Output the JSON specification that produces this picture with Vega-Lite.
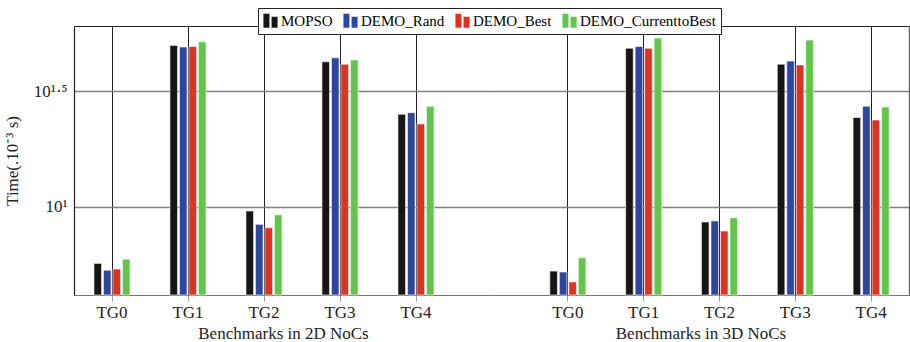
{
  "$schema": "https://vega.github.io/schema/vega-lite/v6.json",
  "autosize": {"type": "pad"},
  "padding": {"left": 3, "top": 7, "right": 2, "bottom": 0},
  "background": "white",
  "spacing": 0,
  "bounds": "flush",
  "config": {
    "view": {"stroke": null},
    "font": "Liberation Serif",
    "axis": {"labelFont": "Liberation Serif", "titleFont": "Liberation Serif", "labelColor": "#222", "titleColor": "#222", "titleFontWeight": "normal"},
    "legend": {"labelFont": "Liberation Serif"}
  },
  "data": {
    "values": [
      {"dim": "2D", "tg": "TG0", "method": "MOPSO", "time": 5.69},
      {"dim": "2D", "tg": "TG0", "method": "DEMO_Rand", "time": 5.31},
      {"dim": "2D", "tg": "TG0", "method": "DEMO_Best", "time": 5.38},
      {"dim": "2D", "tg": "TG0", "method": "DEMO_CurrenttoBest", "time": 5.93},
      {"dim": "2D", "tg": "TG1", "method": "MOPSO", "time": 49.8},
      {"dim": "2D", "tg": "TG1", "method": "DEMO_Rand", "time": 49.0},
      {"dim": "2D", "tg": "TG1", "method": "DEMO_Best", "time": 49.3},
      {"dim": "2D", "tg": "TG1", "method": "DEMO_CurrenttoBest", "time": 51.6},
      {"dim": "2D", "tg": "TG2", "method": "MOPSO", "time": 9.58},
      {"dim": "2D", "tg": "TG2", "method": "DEMO_Rand", "time": 8.39},
      {"dim": "2D", "tg": "TG2", "method": "DEMO_Best", "time": 8.11},
      {"dim": "2D", "tg": "TG2", "method": "DEMO_CurrenttoBest", "time": 9.23},
      {"dim": "2D", "tg": "TG3", "method": "MOPSO", "time": 42.3},
      {"dim": "2D", "tg": "TG3", "method": "DEMO_Rand", "time": 44.0},
      {"dim": "2D", "tg": "TG3", "method": "DEMO_Best", "time": 41.3},
      {"dim": "2D", "tg": "TG3", "method": "DEMO_CurrenttoBest", "time": 43.1},
      {"dim": "2D", "tg": "TG4", "method": "MOPSO", "time": 25.1},
      {"dim": "2D", "tg": "TG4", "method": "DEMO_Rand", "time": 25.5},
      {"dim": "2D", "tg": "TG4", "method": "DEMO_Best", "time": 22.8},
      {"dim": "2D", "tg": "TG4", "method": "DEMO_CurrenttoBest", "time": 27.2},
      {"dim": "3D", "tg": "TG0", "method": "MOPSO", "time": 5.27},
      {"dim": "3D", "tg": "TG0", "method": "DEMO_Rand", "time": 5.22},
      {"dim": "3D", "tg": "TG0", "method": "DEMO_Best", "time": 4.73},
      {"dim": "3D", "tg": "TG0", "method": "DEMO_CurrenttoBest", "time": 6.02},
      {"dim": "3D", "tg": "TG1", "method": "MOPSO", "time": 48.4},
      {"dim": "3D", "tg": "TG1", "method": "DEMO_Rand", "time": 49.3},
      {"dim": "3D", "tg": "TG1", "method": "DEMO_Best", "time": 48.4},
      {"dim": "3D", "tg": "TG1", "method": "DEMO_CurrenttoBest", "time": 53.6},
      {"dim": "3D", "tg": "TG2", "method": "MOPSO", "time": 8.59},
      {"dim": "3D", "tg": "TG2", "method": "DEMO_Rand", "time": 8.68},
      {"dim": "3D", "tg": "TG2", "method": "DEMO_Best", "time": 7.85},
      {"dim": "3D", "tg": "TG2", "method": "DEMO_CurrenttoBest", "time": 8.96},
      {"dim": "3D", "tg": "TG3", "method": "MOPSO", "time": 41.3},
      {"dim": "3D", "tg": "TG3", "method": "DEMO_Rand", "time": 42.6},
      {"dim": "3D", "tg": "TG3", "method": "DEMO_Best", "time": 41.0},
      {"dim": "3D", "tg": "TG3", "method": "DEMO_CurrenttoBest", "time": 52.5},
      {"dim": "3D", "tg": "TG4", "method": "MOPSO", "time": 24.3},
      {"dim": "3D", "tg": "TG4", "method": "DEMO_Rand", "time": 27.2},
      {"dim": "3D", "tg": "TG4", "method": "DEMO_Best", "time": 23.7},
      {"dim": "3D", "tg": "TG4", "method": "DEMO_CurrenttoBest", "time": 27.0}
    ]
  },
  "hconcat": [
    {
      "width": 418,
      "height": 269,
      "transform": [{"filter": "datum.dim === '2D'"}],
      "resolve": {"axis": {"x": "independent", "y": "independent"}},
      "layer": [
        {
          "mark": {"type": "bar", "stroke": "white", "strokeWidth": 0.6},
          "encoding": {
            "x": {
              "field": "tg", "type": "nominal", "sort": null,
              "scale": {"paddingInner": 0.5, "paddingOuter": 0.5, "align": 0.25},
              "axis": {"orient": "bottom", "title": "Benchmarks in 2D NoCs", "labelAngle": 0, "labelFontSize": 17, "titleFontSize": 17, "labelPadding": 3, "titlePadding": 5, "tickColor": "#999", "tickSize": 6, "domainColor": "#777", "domainWidth": 1.2, "grid": true, "gridColor": "#222", "gridWidth": 1, "bandPosition": 0.5}
            },
            "xOffset": {"field": "method", "type": "nominal", "sort": ["MOPSO", "DEMO_Rand", "DEMO_Best", "DEMO_CurrenttoBest"], "scale": {"paddingInner": 0.2, "paddingOuter": 0.1}},
            "y": {
              "field": "time", "type": "quantitative",
              "scale": {"type": "log", "domain": [4.153, 60.4], "nice": false},
              "axis": {"values": [10, 31.6227766], "labelExpr": "datum.value < 20 ? '10¹' : '10¹·⁵'", "labelFontSize": 17, "ticks": false, "labelPadding": 7, "grid": true, "gridColor": "#808080", "gridWidth": 1.3, "domainColor": "#222", "domainWidth": 1.2, "title": "Time(.10⁻³ s)", "titleFontSize": 17, "titlePadding": 12}
            },
            "y2": {"datum": 4.153},
            "color": {
              "field": "method", "type": "nominal",
              "scale": {"domain": ["MOPSO", "DEMO_Rand", "DEMO_Best", "DEMO_CurrenttoBest"], "range": ["#161616", "#2f46a0", "#e0321f", "#62c64b"]},
              "legend": {"orient": "none", "legendX": 184, "legendY": -18, "direction": "horizontal", "title": null, "labelFontSize": 15, "symbolType": "M-1,-1H-0.15V1H-1Z M0.15,-0.55H1V1H0.15Z", "symbolSize": 200, "symbolStrokeWidth": 0, "symbolOpacity": 1, "columnPadding": 10, "strokeColor": "#222", "fillColor": "white", "padding": 5, "labelOffset": 3}
            }
          }
        },
        {
          "mark": {"type": "tick", "opacity": 0},
          "encoding": {
            "x": {"field": "tg", "type": "nominal", "sort": null, "axis": {"orient": "top", "labels": false, "ticks": false, "grid": false, "title": null, "domainColor": "#222", "domainWidth": 1.2}}
          }
        }
      ]
    },
    {
      "width": 417,
      "height": 269,
      "transform": [{"filter": "datum.dim === '3D'"}],
      "resolve": {"axis": {"x": "independent", "y": "independent"}},
      "layer": [
        {
          "mark": {"type": "bar", "stroke": "white", "strokeWidth": 0.6},
          "encoding": {
            "x": {
              "field": "tg", "type": "nominal", "sort": null,
              "scale": {"paddingInner": 0.5, "paddingOuter": 0.5, "align": 0.75},
              "axis": {"orient": "bottom", "title": "Benchmarks in 3D NoCs", "labelAngle": 0, "labelFontSize": 17, "titleFontSize": 17, "labelPadding": 3, "titlePadding": 5, "tickColor": "#999", "tickSize": 6, "domainColor": "#777", "domainWidth": 1.2, "grid": true, "gridColor": "#222", "gridWidth": 1, "bandPosition": 0.5}
            },
            "xOffset": {"field": "method", "type": "nominal", "sort": ["MOPSO", "DEMO_Rand", "DEMO_Best", "DEMO_CurrenttoBest"], "scale": {"paddingInner": 0.2, "paddingOuter": 0.1}},
            "y": {
              "field": "time", "type": "quantitative",
              "scale": {"type": "log", "domain": [4.153, 60.4], "nice": false},
              "axis": {"values": [10, 31.6227766], "labels": false, "ticks": false, "domain": false, "grid": true, "gridColor": "#808080", "gridWidth": 1.3, "title": null}
            },
            "y2": {"datum": 4.153},
            "color": {
              "field": "method", "type": "nominal",
              "scale": {"domain": ["MOPSO", "DEMO_Rand", "DEMO_Best", "DEMO_CurrenttoBest"], "range": ["#161616", "#2f46a0", "#e0321f", "#62c64b"]}
            }
          }
        },
        {
          "mark": {"type": "tick", "opacity": 0},
          "encoding": {
            "x": {"field": "tg", "type": "nominal", "sort": null, "axis": {"orient": "top", "labels": false, "ticks": false, "grid": false, "title": null, "domainColor": "#222", "domainWidth": 1.2}},
            "y": {"field": "time", "type": "quantitative", "axis": {"orient": "right", "labels": false, "ticks": false, "grid": false, "title": null, "domainColor": "#666", "domainWidth": 1.4}}
          }
        }
      ]
    }
  ]
}
